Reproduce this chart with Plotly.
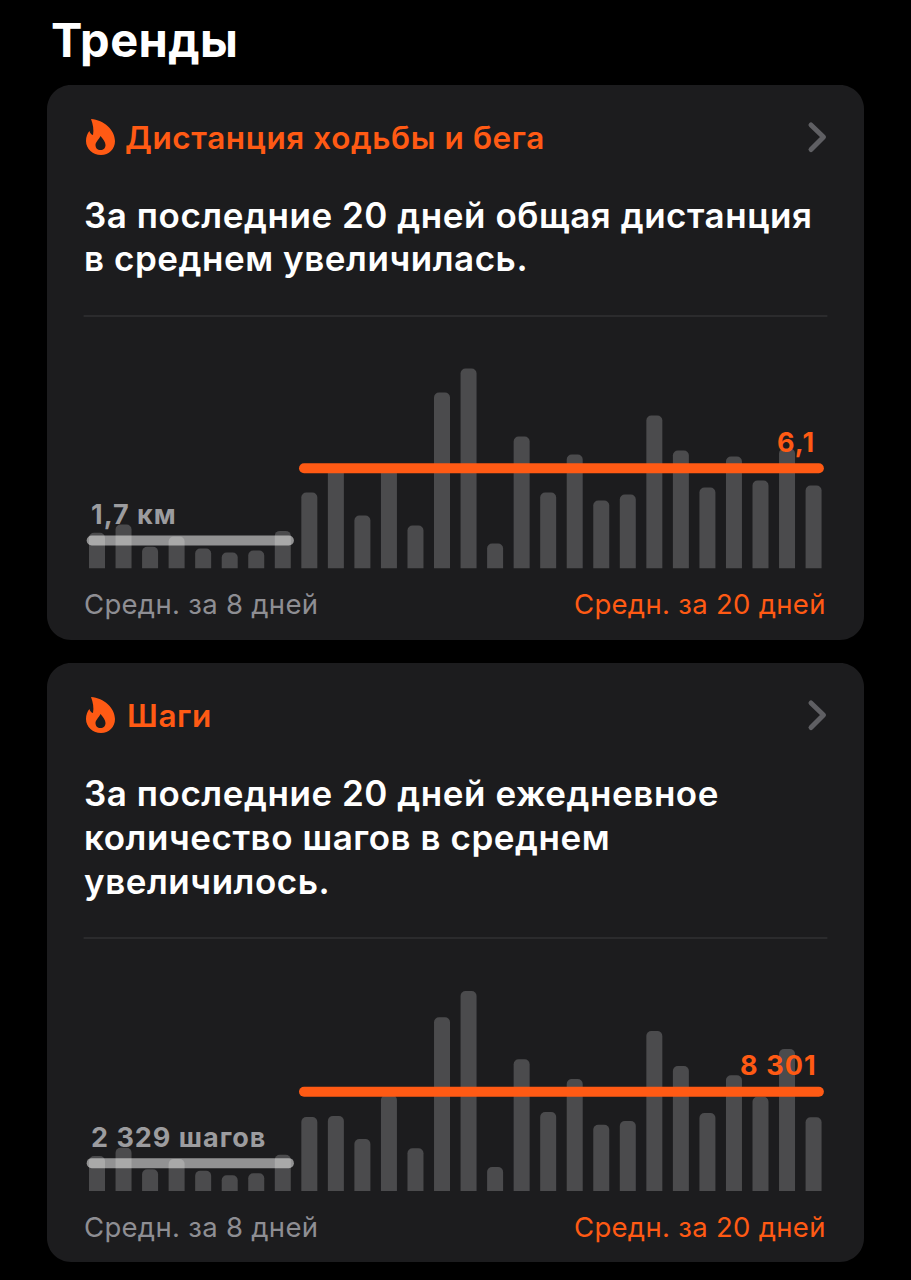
import json
import plotly.graph_objects as go

W, H = 911, 1280
FONT = "Inter"

# --- data ---
days = list(range(28))
distance_km = [2.17, 2.68, 1.32, 1.95, 1.22, 0.97, 1.10, 2.29, 4.63, 6.09, 3.23, 6.09, 2.62, 10.71,
               12.17, 1.52, 8.03, 4.63, 6.94, 4.14, 4.50, 9.31, 7.18, 4.93, 6.82, 5.36, 7.30, 5.05]
steps = [2927, 3620, 1814, 2676, 1697, 1313, 1480, 3035, 6187, 6271, 4348, 8027, 3570, 14523,
         16722, 2007, 11012, 6605, 9365, 5543, 5853, 13378, 10452, 6522, 9674, 7885, 11873, 6162]
km_avg_prev, km_avg_last = 1.7, 6.1
steps_avg_prev, steps_avg_last = 2329, 8301
avg_prev_span = [-0.2, 7.23]
avg_last_span = [7.8, 27.2]

page_title = "Тренды"
card_titles = ["Дистанция ходьбы и бега", "Шаги"]
card_texts = [["За последние 20 дней общая дистанция", "в среднем увеличилась."],
              ["За последние 20 дней ежедневное", "количество шагов в среднем", "увеличилось."]]
prev_labels = ["1,7 км", "2 329 шагов"]
last_labels = ["6,1", "8 301"]
foot_prev = "Средн. за 8 дней"
foot_last = "Средн. за 20 дней"

ORANGE = "#ff5a14"
CARD = "#1c1c1e"
BAR = "#4b4b4d"
AVG = "rgba(255,255,255,0.52)"


def px(x, y):
    return f"{x / W:.5f},{1 - y / H:.5f}"


def path(cmds):
    out = []
    for c, *pts in cmds:
        out.append(c + " " + " ".join(px(*p) for p in pts))
    return " ".join(out)


def round_rect(x0, y0, x1, y1, r):
    k = r * 0.45
    return path([
        ("M", (x0 + r, y0)), ("L", (x1 - r, y0)),
        ("C", (x1 - k, y0), (x1, y0 + k), (x1, y0 + r)), ("L", (x1, y1 - r)),
        ("C", (x1, y1 - k), (x1 - k, y1), (x1 - r, y1)), ("L", (x0 + r, y1)),
        ("C", (x0 + k, y1), (x0, y1 - k), (x0, y1 - r)), ("L", (x0, y0 + r)),
        ("C", (x0, y0 + k), (x0 + k, y0), (x0 + r, y0)),
    ]) + " Z"


def flame(dy):
    s = lambda x, y: (x, y + dy)
    outer = path([
        ("M", s(91, 119)),
        ("C", s(104, 120), s(115, 130), s(115, 141)),
        ("C", s(115, 149), s(109, 155), s(101, 155)),
        ("C", s(93, 155), s(86, 149), s(86, 141)),
        ("C", s(86, 137), s(87.5, 133), s(89.5, 131)),
        ("C", s(90, 133), s(91, 134.5), s(93, 135)),
        ("C", s(94, 130), s(93, 124), s(91, 119)),
    ]) + " Z"
    inner = path([
        ("M", s(100.5, 136)),
        ("C", s(103, 139), s(105.5, 142), s(105.5, 145)),
        ("C", s(105.5, 148), s(103.5, 150), s(100.5, 150)),
        ("C", s(97.5, 150), s(95.5, 148), s(95.5, 145)),
        ("C", s(95.5, 142), s(98.5, 140), s(100.5, 136)),
    ]) + " Z"
    return outer, inner


shapes = []
for y0, y1, dy, div_y in [(85, 640, 0, 316), (663, 1262, 578, 938)]:
    shapes.append(dict(type="path", xref="paper", yref="paper", layer="below",
                       path=round_rect(47, y0, 864, y1, 24), fillcolor=CARD, line_width=0))
    shapes.append(dict(type="line", xref="paper", yref="paper", layer="below",
                       x0=84 / W, x1=827 / W, y0=1 - div_y / H, y1=1 - div_y / H,
                       line=dict(color="#3a3a3c", width=1)))
    o, i = flame(dy)
    shapes.append(dict(type="path", xref="paper", yref="paper", layer="below",
                       path=o, fillcolor=ORANGE, line_width=0))
    shapes.append(dict(type="path", xref="paper", yref="paper", layer="below",
                       path=i, fillcolor=CARD, line_width=0))
    shapes.append(dict(type="path", xref="paper", yref="paper", layer="below",
                       path=path([("M", (811, 125 + dy)), ("L", (823.5, 137 + dy)), ("L", (811, 149.5 + dy))]),
                       line=dict(color="#5f5f63", width=5)))

fig = go.Figure()

for idx, (vals, prev, last) in enumerate([(distance_km, km_avg_prev, km_avg_last),
                                          (steps, steps_avg_prev, steps_avg_last)], start=1):
    xa, ya = ("x", "y") if idx == 1 else ("x2", "y2")
    fig.add_trace(go.Bar(x=days, y=vals, xaxis=xa, yaxis=ya, marker=dict(color=BAR, cornerradius=5, line_width=0),
                         hoverinfo="skip"))
    fig.add_trace(go.Scatter(x=avg_prev_span, y=[prev, prev], mode="lines", xaxis=xa, yaxis=ya,
                             line=dict(color=AVG, width=10), hoverinfo="skip"))
    fig.add_trace(go.Scatter(x=avg_last_span, y=[last, last], mode="lines", xaxis=xa, yaxis=ya,
                             line=dict(color=ORANGE, width=10), hoverinfo="skip"))

spacing = []


def note(text, x, y, size, color, weight=400, track=0.0):
    spacing.append(track)
    return dict(text=text, xref="paper", yref="paper", x=(x - 3) / W, y=1 - y / H, xanchor="left", yanchor="middle",
                showarrow=False, align="left",
                font=dict(family=FONT, size=size, color=color, weight=weight))


ann = [note(page_title, 52, 39.5, 47, "#ffffff", 700, 0.4)]
for dy, title, title_x, lines, line_y, prev_l, prev_y, last_l, last_x, last_y, foot_y in [
    (0, card_titles[0], 126, card_texts[0], [214.5, 258.5], prev_labels[0], 514, last_labels[0], 778, 442.5, 604),
    (578, card_titles[1], 128, card_texts[1], [792.5, 836.5, 880.5], prev_labels[1], 1137, last_labels[1], 741, 1065.5, 1227),
]:
    ann.append(note(title, title_x, 137.5 + dy, 31.5, ORANGE, 600, 0.6))
    for t, y in zip(lines, line_y):
        ann.append(note(t, 85, y, 35, "#ffffff", 600, 0.55))
    ann.append(note(prev_l, 92, prev_y, 27, "#9c9c9f", 700, 1.0))
    ann.append(note(last_l, last_x, last_y, 27, ORANGE, 700, 1.1))
    ann.append(note(foot_prev, 85, foot_y, 27.5, "#8e8e93", 400, 0.3))
    ann.append(note(foot_last, 575, foot_y, 27.5, ORANGE, 400, 0.3))

x_range = [(84 - 97) / 26.54, (827 - 97) / 26.54]
hidden = dict(visible=False, fixedrange=True)
fig.update_layout(
    width=W, height=H, margin=dict(l=0, r=0, t=0, b=0),
    paper_bgcolor="#000000", plot_bgcolor="rgba(0,0,0,0)",
    showlegend=False, bargap=0.397, shapes=shapes, annotations=ann,
    xaxis=dict(domain=[84 / W, 827 / W], range=x_range, **hidden),
    xaxis2=dict(domain=[84 / W, 827 / W], range=x_range, **hidden),
    yaxis=dict(domain=[1 - 568.5 / H, 1 - 340 / H], range=[0, 228.5 / 16.43], **hidden),
    yaxis2=dict(domain=[1 - 1191 / H, 1 - 962 / H], range=[0, 229 / 0.01196], **hidden),
)

post = ("document.body.style.margin='0';document.body.style.background='#000';"
        "document.querySelectorAll('.scatterlayer .js-line').forEach(function(p){p.style.strokeLinecap='round';});"
        "document.querySelectorAll('.shapelayer path').forEach(function(p){p.style.strokeLinecap='round';p.style.strokeLinejoin='round';});"
        "var sp=" + json.dumps(spacing) + ";"
        "document.querySelectorAll('.annotation-text').forEach(function(t,i){t.style.letterSpacing=sp[i]+'px';});")
fig.write_html("out.html", post_script=post, config=dict(displayModeBar=False))
